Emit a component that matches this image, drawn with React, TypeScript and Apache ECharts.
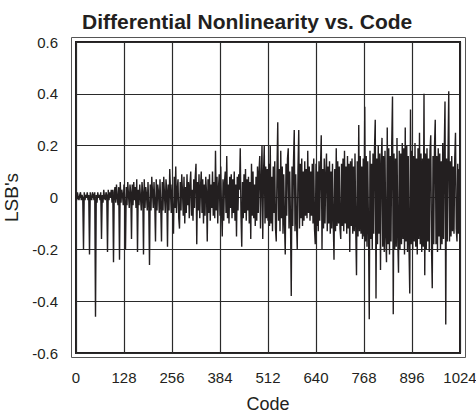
import React, { useEffect, useRef } from "react";
import * as echarts from "echarts";

// DNL values (LSB's), one value every 2 codes, codes 0..1022
const codeStep = 2;
const dnlValues: number[] = [
  .01,-.01,.02,.00,-.01,.01,.02,-.01,.01,.00,-.20,.02,-.01,.01,.00,.02,
  -.01,.01,-.22,.02,.00,-.01,.02,.01,-.01,.02,-.46,.01,-.02,.02,.00,.01,
  -.01,.02,-.16,.01,-.02,.03,.00,-.01,.02,.01,-.21,.03,-.01,.02,.00,.03,
  -.02,.03,-.25,.02,.04,-.02,.05,.00,-.03,.04,-.24,.06,-.02,.03,.01,-.03,
  .05,-.02,-.20,.04,-.03,.06,.01,-.04,.05,.02,-.16,.05,-.03,.06,-.01,.04,
  -.04,.07,-.21,.03,-.03,.05,.00,-.05,.06,.02,-.22,.07,-.04,.04,.01,-.05,
  .06,-.03,-.26,.05,-.05,.08,.02,-.04,.06,-.02,-.17,.07,-.05,.05,.02,-.06,
  .07,-.04,-.17,.06,-.05,.08,.01,-.06,.07,.03,-.19,.05,-.05,.11,.02,-.06,
  .05,-.07,-.14,.08,-.04,.12,-.06,.03,.07,-.08,-.12,.06,-.05,.09,.02,-.07,
  .08,-.10,.04,-.06,.09,-.03,.06,-.08,.05,.10,-.07,.03,-.09,.07,-.04,.08,
  .13,-.18,.06,-.05,.09,-.08,.04,.10,-.06,.07,-.10,.05,-.07,.08,.02,-.17,
  .07,-.06,.09,-.09,.05,-.04,.10,-.07,.06,-.08,.18,-.05,.08,-.10,.04,.09,
  -.07,.12,-.05,-.15,.07,-.09,.06,.10,-.06,.16,-.08,.05,-.10,.08,-.04,.09,
  -.08,.07,-.06,.10,-.09,.05,-.15,.08,-.05,.09,.03,.19,-.07,-.19,.06,-.08,
  .09,-.06,.11,-.09,.07,-.05,.08,-.10,.06,-.16,.13,-.07,.10,-.08,.05,-.11,
  .08,-.09,.12,-.06,.10,.16,-.12,.07,.20,-.16,.09,.20,-.10,.12,-.08,.11,
  -.09,.13,-.11,.20,-.10,.08,-.13,.12,-.06,.14,-.12,-.17,.10,.29,-.09,.11,
  -.13,.18,-.08,.12,-.14,.09,-.10,-.22,.13,-.07,.15,.19,-.12,.10,-.09,-.38,
  .12,-.11,.14,.26,-.13,.09,-.10,-.20,.11,.26,-.12,.13,-.08,.15,-.11,.10,
  -.09,.14,-.07,.11,-.08,.18,-.06,.12,-.09,.10,-.07,.13,-.10,.15,-.12,-.18,
  .13,-.11,.10,-.13,.14,-.09,.12,.24,-.20,.11,-.12,.15,-.10,.09,.17,-.13,
  .12,-.10,.14,-.14,.10,-.12,.13,-.09,-.24,.11,-.13,.19,-.11,.14,-.10,.12,
  -.12,-.16,.13,-.11,.15,-.13,.18,-.10,.12,-.14,.16,-.12,.13,-.21,.14,-.11,
  .15,-.14,.12,-.13,.17,-.12,-.30,.14,-.15,.28,-.13,.16,-.14,.12,-.16,.15,
  -.15,.35,-.17,.16,-.19,.14,-.12,-.47,.18,-.16,.13,-.20,.17,-.14,.19,.30,
  -.39,.15,-.18,.20,-.14,.17,-.28,.14,.23,-.19,.16,-.21,.18,-.15,-.25,.27,
  -.18,.19,-.22,.16,-.17,.21,.39,-.45,.17,-.20,.15,-.19,.23,-.16,-.29,.18,
  -.20,.17,-.18,.21,-.16,.19,-.22,.27,-.17,.20,-.21,.16,-.19,-.37,.34,-.18,
  .18,-.20,.16,-.17,.21,-.19,.15,-.22,.19,-.16,.25,-.18,.17,-.21,.15,-.19,
  .40,-.30,.17,-.20,.19,-.17,.15,-.21,.18,.24,-.19,-.35,.16,-.18,.20,.30,
  -.18,.16,-.21,.19,-.15,.17,-.20,.14,-.18,.21,-.16,.18,.37,-.49,.15,-.17,
  .16,.41,-.17,.14,-.15,.16,-.13,.12,-.14,.15,.25,-.12,-.17,.13,-.14,.11,
];

const xMin = 0;
const xMax = 1024;
const xInterval = 128;
const yMin = -0.6;
const yMax = 0.6;
const yInterval = 0.2;

const titleText = "Differential Nonlinearity vs. Code";
const xName = "Code";
const yName = "LSB's";

const FONT = "'Liberation Sans', Arial, Helvetica, sans-serif";
const INK = "#231f20";

export default function App() {
  const ref = useRef<HTMLDivElement>(null);

  useEffect(() => {
    if (!ref.current) return;
    const chart = echarts.init(ref.current, null, { renderer: "svg" });
    const seriesData = dnlValues.map((v, i) => [i * codeStep, v]);

    chart.setOption({
      animation: false,
      backgroundColor: "#ffffff",
      title: {
        text: titleText,
        left: 77,
        top: 6,
        textStyle: {
          fontFamily: FONT,
          fontSize: 21,
          fontWeight: "bold",
          color: INK,
        },
      },
      grid: {
        left: 76,
        right: 16,
        top: 42,
        bottom: 64,
        show: true,
        containLabel: false,
        outerBoundsMode: "none",
        borderColor: INK,
        borderWidth: 2,
        backgroundColor: "transparent",
      },
      xAxis: {
        type: "value",
        min: xMin,
        max: xMax,
        interval: xInterval,
        name: xName,
        nameLocation: "middle",
        nameGap: 42,
        nameTextStyle: { fontFamily: FONT, fontSize: 18, color: INK },
        axisLine: { show: false },
        axisTick: { show: false },
        axisLabel: {
          fontFamily: FONT,
          fontSize: 15,
          color: INK,
          margin: 17,
          formatter: (v: number) => String(v),
        },
        splitLine: { show: true, lineStyle: { color: "#2a2a2a", width: 1.2 } },
      },
      yAxis: {
        type: "value",
        min: yMin,
        max: yMax,
        interval: yInterval,
        name: yName,
        nameLocation: "middle",
        nameGap: 41,
        nameTextStyle: { fontFamily: FONT, fontSize: 19, color: INK },
        axisLine: { show: false },
        axisTick: { show: false },
        axisLabel: {
          fontFamily: FONT,
          fontSize: 15,
          color: INK,
          margin: 18,
          formatter: (v: number) => (Math.abs(v) < 1e-9 ? "0" : v.toFixed(1)),
        },
        splitLine: { show: true, lineStyle: { color: "#2a2a2a", width: 1.2 } },
      },
      graphic: [
        {
          type: "rect",
          shape: { x: 71.5, y: 37.5, width: 394, height: 320 },
          style: { fill: "none", stroke: "#555555", lineWidth: 1 },
          silent: true,
        },
      ],
      series: [
        {
          type: "line",
          data: seriesData,
          showSymbol: false,
          symbol: "none",
          lineStyle: { color: INK, width: 1.4 },
          itemStyle: { color: INK },
          z: 3,
        },
      ],
    });

    return () => chart.dispose();
  }, []);

  return (
    <div
      ref={ref}
      style={{ position: "fixed", left: 0, top: 0, width: 476, height: 417 }}
    />
  );
}
